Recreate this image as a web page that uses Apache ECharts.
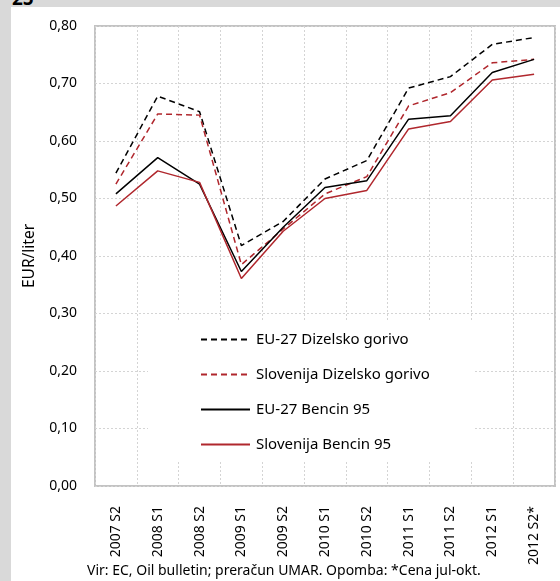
<!DOCTYPE html>
<html>
<head>
<meta charset="utf-8">
<script src="https://cdn.jsdelivr.net/npm/echarts@6/dist/echarts.min.js"></script>
<style>
  html, body { margin: 0; padding: 0; background: #d9d9d9; width: 560px; height: 581px; overflow: hidden; }
  #tab { position: absolute; left: 12px; top: -15px; font: bold 19px "Noto Sans", sans-serif; color: #000; }
  #chart { position: absolute; left: 11px; top: 7px; width: 549px; height: 574px; background: #fff; }
</style>
</head>
<body>
<div id="tab">25</div>
<div id="chart"></div>
<script>
// Half-year periods
const categories = ['2007 S2', '2008 S1', '2008 S2', '2009 S1', '2009 S2', '2010 S1', '2010 S2', '2011 S1', '2011 S2', '2012 S1', '2012 S2*'];

// Prices excluding taxes, EUR per liter
const euDiesel = [0.544, 0.678, 0.651, 0.418, 0.460, 0.534, 0.566, 0.692, 0.712, 0.768, 0.780];
const siDiesel = [0.525, 0.647, 0.645, 0.385, 0.447, 0.508, 0.538, 0.661, 0.684, 0.736, 0.742];
const euPetrol = [0.508, 0.571, 0.525, 0.373, 0.450, 0.519, 0.531, 0.638, 0.644, 0.719, 0.742];
const siPetrol = [0.487, 0.548, 0.528, 0.361, 0.443, 0.500, 0.514, 0.621, 0.634, 0.706, 0.716];

const seriesNames = ['EU-27 Dizelsko gorivo', 'Slovenija Dizelsko gorivo', 'EU-27 Bencin 95', 'Slovenija Bencin 95'];
const yTicks = { min: 0, max: 0.8, interval: 0.1 };
const sourceNote = 'Vir: EC, Oil bulletin; preračun UMAR. Opomba: *Cena jul-okt.';

const BLACK = '#000000';
const RED = '#b0272d';
const FONT = '"Noto Sans", sans-serif';

const chart = echarts.init(document.getElementById('chart'), null, { renderer: 'canvas' });

function line(name, data, color, dashed) {
  return {
    name: name,
    type: 'line',
    data: data,
    symbol: 'none',
    animation: false,
    lineStyle: { color: color, width: 1.5, type: dashed ? [6, 4] : 'solid' },
    itemStyle: { color: color }
  };
}

chart.setOption({
  animation: false,
  textStyle: { fontFamily: FONT },
  grid: {
    left: 84, right: 5, top: 19, bottom: 95,
    show: true, borderColor: '#c3c3c3', borderWidth: 2
  },
  legend: {
    orient: 'vertical',
    left: 137, top: 313,
    padding: [12, 44, 10, 52],
    itemGap: 20,
    itemWidth: 49, itemHeight: 14,
    backgroundColor: '#ffffff',
    itemStyle: { opacity: 0 },
    data: seriesNames,
    textStyle: { fontSize: 15, color: '#000', fontFamily: FONT, padding: [0, 0, 0, 1] }
  },
  xAxis: {
    type: 'category',
    data: categories,
    boundaryGap: true,
    axisLine: { show: false },
    axisTick: { show: false },
    axisLabel: { interval: 0, rotate: 90, margin: 20, fontSize: 14, color: '#000', fontFamily: FONT },
    splitLine: { show: true, interval: 0, lineStyle: { color: '#d4d4d4', type: [2, 2], width: 1 } }
  },
  yAxis: {
    type: 'value',
    min: yTicks.min, max: yTicks.max, interval: yTicks.interval,
    name: 'EUR/liter',
    nameLocation: 'middle',
    nameGap: 57,
    nameTextStyle: { fontSize: 15.5, color: '#000', fontFamily: FONT },
    axisLine: { show: false },
    axisTick: { show: false },
    axisLabel: {
      margin: 18, fontSize: 14, color: '#000', fontFamily: FONT,
      formatter: v => v.toFixed(2).replace('.', ',')
    },
    splitLine: { show: true, lineStyle: { color: '#d4d4d4', type: [2, 2], width: 1 } }
  },
  graphic: [{
    type: 'text',
    left: 76, top: 557,
    style: { text: sourceNote, fontSize: 14, fontFamily: FONT, fill: '#000' }
  }],
  series: [
    line(seriesNames[0], euDiesel, BLACK, true),
    line(seriesNames[1], siDiesel, RED, true),
    line(seriesNames[2], euPetrol, BLACK, false),
    line(seriesNames[3], siPetrol, RED, false)
  ]
});
</script>
</body>
</html>
